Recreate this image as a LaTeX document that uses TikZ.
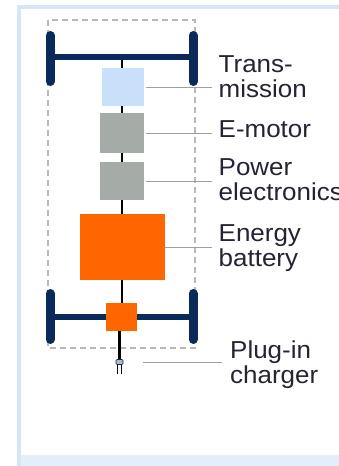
\documentclass[tikz,border=0pt]{standalone}
\usepackage{fontspec}
\setmainfont{Liberation Sans}
\newfontfamily\lblfont[FakeStretch=1.06]{Liberation Sans}
\definecolor{navy}{HTML}{0A2A5C}
\definecolor{tblue}{HTML}{C8E0FA}
\definecolor{mgray}{HTML}{A5ABA7}
\definecolor{orng}{HTML}{FF6600}
\definecolor{leadc}{HTML}{A0A0A0}
\definecolor{dashc}{HTML}{B8B8B8}
\definecolor{framec}{HTML}{D6E6F8}
\definecolor{bandc}{HTML}{E4EEFB}
\definecolor{textc}{HTML}{242434}
\definecolor{plugc}{HTML}{A8BCD0}
\begin{document}
\begin{tikzpicture}[x=1pt,y=-1pt,
  comp/.style={draw=none, inner sep=0, minimum width=#1},
  lbl/.style={anchor=base west, inner sep=0, text=textc, font=\lblfont\fontsize{24.5}{25}\selectfont},
  leader/.style={draw=leadc, line width=1pt},
  wheel/.style={draw=navy, line width=9pt, line cap=round},
  axle/.style={draw=navy, line width=6pt},
  shaft/.style={draw=black, line width=2.5pt}]
\useasboundingbox (0,0) rectangle (339,466);
% frame
\fill[framec] (17,5) rectangle (339,466);
\fill[white] (20.5,8.5) rectangle (339,455);
\fill[bandc] (20.5,455) rectangle (339,466);
% dashed outline
\draw[dashc, line width=1.2pt, dash pattern=on 6pt off 4pt] (48,20) rectangle (195,348);
% axle centre points
\coordinate (fa) at (122,57);
\coordinate (ra) at (122,317);
% plug
\node[draw=textc, fill=plugc, line width=0.6pt, rounded corners=1pt, minimum width=7pt, minimum height=5pt, inner sep=0] (plug) at (119.5,362) {};
% shaft
\draw[shaft] (fa) -- (ra);
% axles and wheels
\coordinate (fl) at (50,57); \coordinate (fr) at (193,57);
\coordinate (rl) at (50,317); \coordinate (rr) at (193,317);
\draw[axle] (fl) -- (fr);
\draw[axle] (rl) -- (rr);
\draw[wheel] ([yshift=-24.5pt]fl) -- ([yshift=21.5pt]fl);
\draw[wheel] ([yshift=-24.5pt]fr) -- ([yshift=21.5pt]fr);
\draw[wheel] ([yshift=-22.5pt]rl) -- ([yshift=23.5pt]rl);
\draw[wheel] ([yshift=-22.5pt]rr) -- ([yshift=23.5pt]rr);
% components
\node[comp=42pt, minimum height=38pt, fill=tblue] (trans) at (123,87) {};
\node[comp=44pt, minimum height=40pt, fill=mgray] (motor) at (122,133) {};
\node[comp=44pt, minimum height=38pt, fill=mgray] (power) at (122,181) {};
\node[comp=85pt, minimum height=66pt, fill=orng] (batt) at (122.5,247) {};
\node[comp=31pt, minimum height=28pt, fill=orng] (chg) at (121.5,317) {};
% cable to plug
\draw[black, line width=2.2pt] (chg.south -| plug) -- (plug.north);
\draw[black, line width=1pt] ([xshift=-1.6pt]plug.south) -- ++(0,9);
\draw[black, line width=1pt] ([xshift=1.6pt]plug.south) -- ++(0,9);
% labels
\node[lbl] (lT) at (218.5,72) {\vtop{\hbox{Trans-}\hbox{mission}}};
\node[lbl] (lM) at (218.5,137) {E-motor};
\node[lbl] (lP) at (218.5,175) {\vtop{\hbox{Power}\hbox{electronics}}};
\node[lbl] (lB) at (218.5,241) {\vtop{\hbox{Energy}\hbox{battery}}};
\node[lbl] (lC) at (230,358) {\vtop{\hbox{Plug-in}\hbox{charger}}};
% leaders
\draw[leader] ([xshift=2pt]trans.east) -- ([xshift=-6.5pt]trans.east -| lT.west);
\draw[leader] ([xshift=2pt]motor.east) -- ([xshift=-6.5pt]motor.east -| lM.west);
\draw[leader] ([xshift=2pt]power.east) -- ([xshift=-6.5pt]power.east -| lP.west);
\draw[leader] (batt.east) -- ([xshift=-6.5pt]batt.east -| lB.west);
\draw[leader] ([xshift=20pt]plug.east) -- ([xshift=-8pt]plug.east -| lC.west);
\end{tikzpicture}
\end{document}
